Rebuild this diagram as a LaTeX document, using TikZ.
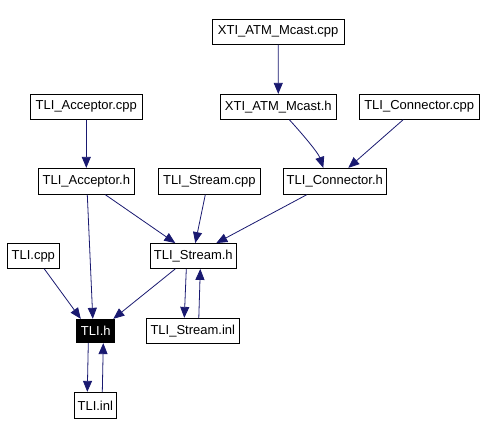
\documentclass[tikz,border=0pt]{standalone}
\usepackage{fontspec}
\setmainfont{Liberation Sans}
\usetikzlibrary{arrows.meta}
\definecolor{edgeblue}{RGB}{25,25,112}
\begin{document}
\begin{tikzpicture}[x=1pt, y=-1pt,
  file/.style={draw, line width=0.8pt, inner xsep=2pt, inner ysep=0pt, minimum height=25pt, font=\fontsize{13}{15}\selectfont},
  curfile/.style={file, fill=black, text=white, minimum height=23.5pt},
  dep/.style={draw=edgeblue, line width=0.8pt, -{Triangle[length=11pt, width=9pt]}}]
\useasboundingbox (0,0) rectangle (483,435);

% Draw the files
\node[file, minimum width=132pt] (mcastcpp) at (278.2, 31.8) {XTI\_ATM\_Mcast.cpp};
\node[file, minimum width=112pt] (acccpp) at (86.3, 106.8) {TLI\_Acceptor.cpp};
\node[file, minimum width=116pt] (mcasth) at (278.3, 106.8) {XTI\_ATM\_Mcast.h};
\node[file, minimum width=120pt] (conncpp) at (419.2, 106.8) {TLI\_Connector.cpp};
\node[file, minimum width=96pt, minimum height=26pt] (acch) at (86.3, 181.3) {TLI\_Acceptor.h};
\node[file, minimum width=102pt, minimum height=26pt] (strcpp) at (209.3, 181.3) {TLI\_Stream.cpp};
\node[file, minimum width=103pt, minimum height=26pt] (connh) at (334.8, 181.3) {TLI\_Connector.h};
\node[file, minimum width=52pt] (tlicpp) at (33.3, 256) {TLI.cpp};
\node[file, minimum width=86pt] (strh) at (193.3, 256) {TLI\_Stream.h};
\node[curfile, minimum width=38pt] (tlih) at (95.8, 331) {TLI.h};
\node[file, minimum width=93pt] (strinl) at (192.8, 330.8) {TLI\_Stream.inl};
\node[file, minimum width=42pt, minimum height=26pt] (tliinl) at (95.3, 405.3) {TLI.inl};

% Draw the dependencies
\draw[dep] (mcastcpp) -- (mcasth);
\draw[dep] (acccpp) -- (acch);
\draw[dep] ([xshift=11pt]mcasth.south) .. controls +(12,13) and +(-5,-15) .. ([xshift=-11.5pt]connh.north);
\draw[dep] ([xshift=-16pt]conncpp.south) -- ([xshift=13.5pt]connh.north);
\draw[dep] ([xshift=1pt]acch.south) -- ([xshift=-3pt]tlih.north);
\draw[dep] ([xshift=19pt]acch.south) -- ([xshift=-18pt]strh.north);
\draw[dep] ([xshift=-4pt]strcpp.south) -- ([xshift=2pt]strh.north);
\draw[dep] ([xshift=-28pt]connh.south) -- ([xshift=23pt]strh.north);
\draw[dep] ([xshift=11pt]tlicpp.south) -- ([xshift=-15pt]tlih.north);
\draw[dep] ([xshift=-18pt]strh.south) -- ([xshift=17.5pt]tlih.north);
\draw[dep] ([xshift=-7pt]strh.south) -- ([xshift=-8.5pt]strinl.north);
\draw[dep] ([xshift=6pt]strinl.north) -- ([xshift=7pt]strh.south);
\draw[dep] ([xshift=-7.5pt]tlih.south) -- ([xshift=-8pt]tliinl.north);
\draw[dep] ([xshift=7pt]tliinl.north) -- ([xshift=7.5pt]tlih.south);
\end{tikzpicture}
\end{document}
